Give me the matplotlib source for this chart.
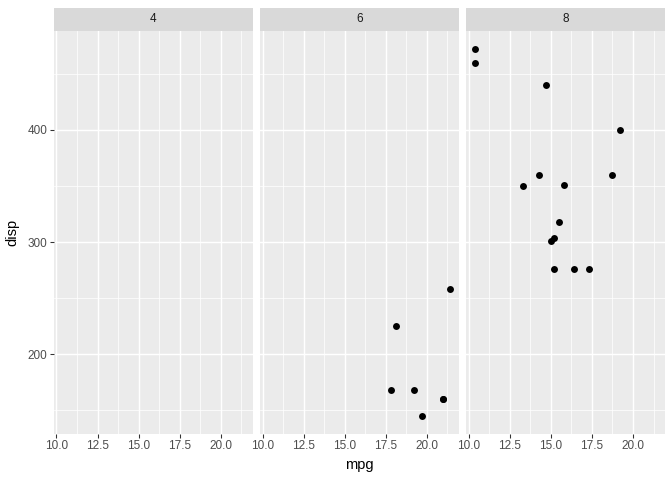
import matplotlib
matplotlib.use("Agg")
import matplotlib.pyplot as plt
from matplotlib.patches import Rectangle

plt.rcParams["font.family"] = ["Liberation Sans", "DejaVu Sans"]

# mtcars subset, faceted by cylinders
facets = ["4", "6", "8"]
mpg_4 = []
disp_4 = []
mpg_6 = [21.0, 21.0, 21.4, 18.1, 19.2, 17.8, 19.7]
disp_6 = [160.0, 160.0, 258.0, 225.0, 167.6, 167.6, 145.0]
mpg_8 = [18.7, 14.3, 16.4, 17.3, 15.2, 10.4, 10.4, 14.7, 15.5, 15.2, 13.3, 19.2, 15.8, 15.0]
disp_8 = [360.0, 360.0, 275.8, 275.8, 275.8, 472.0, 460.0, 440.0, 318.0, 304.0, 350.0, 400.0, 351.0, 301.0]
series = {"4": (mpg_4, disp_4), "6": (mpg_6, disp_6), "8": (mpg_8, disp_8)}

x_ticks = [10.0, 12.5, 15.0, 17.5, 20.0]
x_labels = ["10.0", "12.5", "15.0", "17.5", "20.0"]
y_ticks = [200, 300, 400]

W, H = 672, 480
fig = plt.figure(figsize=(W / 96, H / 96), dpi=96)

left, right = 54, 665
top, bottom = 31, 434
gap = 7.33
pw = (right - left - 2 * gap) / 3
strip_h = 23

all_x = mpg_6 + mpg_8
all_y = disp_6 + disp_8
xr = max(all_x) - min(all_x)
yr = max(all_y) - min(all_y)
xlim = (min(all_x) - 0.05 * xr, max(all_x) + 0.05 * xr)
ylim = (min(all_y) - 0.05 * yr, max(all_y) + 0.05 * yr)

for i, f in enumerate(facets):
    x0 = left + i * (pw + gap)
    ax = fig.add_axes([x0 / W, 1 - bottom / H, pw / W, (bottom - top) / H])
    ax.set_facecolor("#EBEBEB")
    ax.set_xlim(*xlim)
    ax.set_ylim(*ylim)
    for s in ax.spines.values():
        s.set_visible(False)
    # minor grid
    for xm in [11.25, 13.75, 16.25, 18.75, 21.25]:
        ax.axvline(xm, color="white", lw=0.55, zorder=0.5)
    for ym in [150, 250, 350, 450]:
        ax.axhline(ym, color="white", lw=0.55, zorder=0.5)
    for xt in x_ticks:
        ax.axvline(xt, color="white", lw=1.07, zorder=0.6)
    for yt in y_ticks:
        ax.axhline(yt, color="white", lw=1.07, zorder=0.6)
    ax.set_xticks(x_ticks)
    ax.set_xticklabels(x_labels)
    ax.set_yticks(y_ticks)
    ax.tick_params(axis="both", length=2.75, width=0.8, color="#333333",
                   labelsize=8.8, labelcolor="#4D4D4D", pad=2)
    if i > 0:
        ax.tick_params(axis="y", left=False, labelleft=False)
    xs, ys = series[f]
    if xs:
        ax.scatter(xs, ys, s=27, color="black", linewidths=0, zorder=3)
    # strip
    sax = fig.add_axes([x0 / W, 1 - top / H, pw / W, strip_h / H])
    sax.set_xlim(0, 1)
    sax.set_ylim(0, 1)
    sax.axis("off")
    sax.add_patch(Rectangle((0, 0), 1, 1, color="#D9D9D9"))
    sax.text(0.5, 0.5, f, ha="center", va="center", fontsize=8.8, color="#1A1A1A")

fig.text((left + right) / 2 / W, 1 - 465 / H, "mpg", ha="center", va="center", fontsize=11)
fig.text(12 / W, 1 - (top + bottom) / 2 / H, "disp", ha="center", va="center",
         rotation=90, fontsize=11)

fig.savefig("out.png", dpi=96)
